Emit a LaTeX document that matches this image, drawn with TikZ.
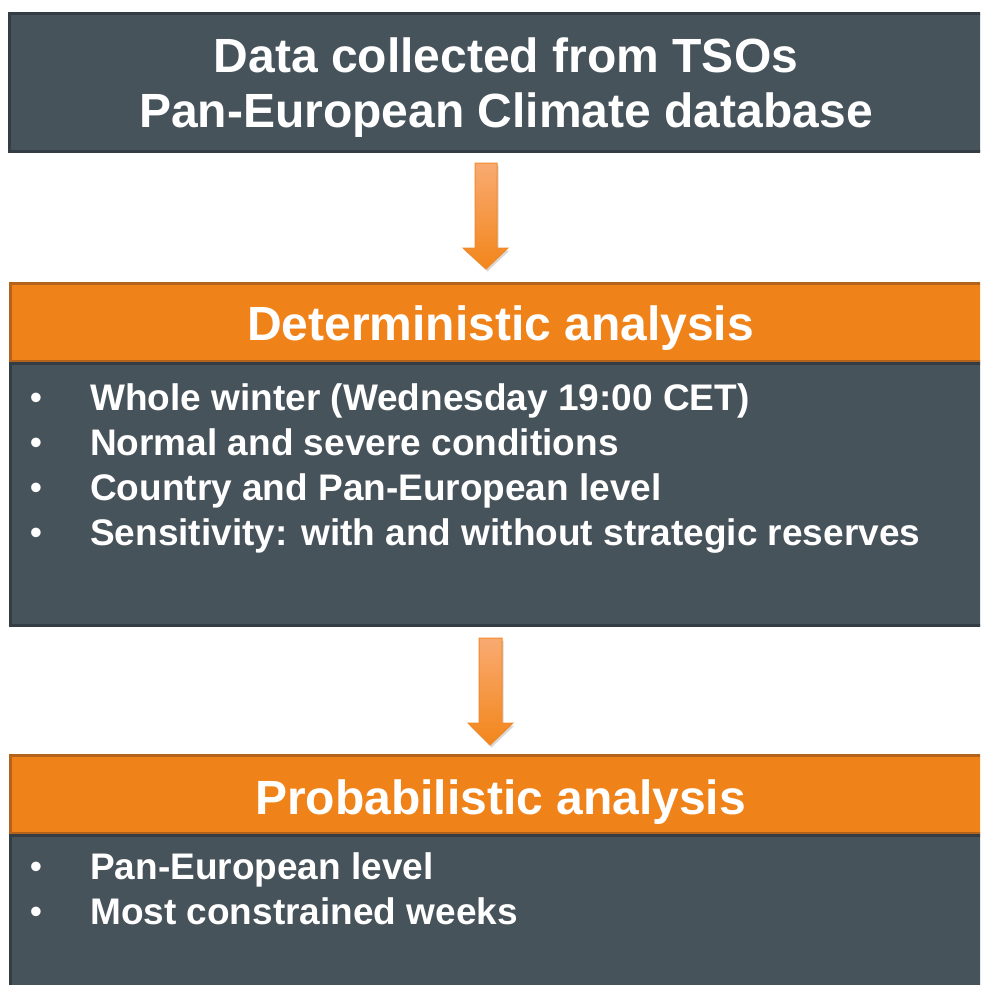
\documentclass[tikz,border=0pt]{standalone}
\usepackage{fontspec}
\setmainfont{Liberation Sans}
\usetikzlibrary{shadows}
\definecolor{slatefill}{HTML}{47535B}
\definecolor{slateedge}{HTML}{343D44}
\definecolor{orfill}{HTML}{F0821A}
\definecolor{oredge}{HTML}{B5631A}
\definecolor{arrtop}{HTML}{F9AA72}
\definecolor{arrbot}{HTML}{F2861A}
\definecolor{arredge}{HTML}{F08A2A}
\tikzset{
  slatebox/.style={rectangle, draw=slateedge, fill=slatefill, line width=3pt, inner sep=0pt, anchor=north west},
  orbox/.style={rectangle, draw=oredge, fill=orfill, line width=3pt, inner sep=0pt, anchor=north west},
  bigtext/.style={text=white, font=\fontsize{48}{55}\selectfont\bfseries, inner sep=0pt},
  itemtext/.style={text=white, font=\fontsize{37}{45}\selectfont\bfseries, inner sep=0pt, anchor=base west},
  bullettext/.style={text=white, font=\fontsize{35}{45}\selectfont, inner sep=0pt, anchor=base},
  blockarrow/.style={top color=arrtop, bottom color=arrbot, draw=arredge, line width=1pt, line join=miter,
     drop shadow={shadow xshift=1.5pt, shadow yshift=-2.5pt, opacity=0.25, fill=black!60}}
}
\begin{document}
\begin{tikzpicture}[x=1pt,y=-1pt]
\useasboundingbox (0,0) rectangle (980,985);
\clip (0,0) rectangle (980,985);
% source box
\node[slatebox, minimum width=1000pt, minimum height=138pt] (src) at (8,12) {};
\node[bigtext, align=center, anchor=base] (srctxt) at (506,127) {Data collected from TSOs\\Pan-European Climate database};
% deterministic
\node[orbox, minimum width=990pt, minimum height=78pt] (dethead) at (9,282) {};
\node[bigtext, anchor=base] (dettxt) at (500.5,340) {Deterministic analysis};
\node[slatebox, minimum width=990pt, minimum height=262pt] (detbody) at (9,362) {};
\node[bullettext] (b1) at (36,409) {•};
\node[itemtext] (i1) at (90,410) {Whole winter (Wednesday 19:00 CET)};
\node[bullettext] (b2) at (36,454) {•};
\node[itemtext] (i2) at (90,455) {Normal and severe conditions};
\node[bullettext] (b3) at (36,499) {•};
\node[itemtext] (i3) at (90,500) {Country and Pan-European level};
\node[bullettext] (b4) at (36,544) {•};
\node[itemtext] (i4) at (90,545) {Sensitivity: with and without strategic reserves};
% probabilistic
\node[orbox, minimum width=990pt, minimum height=78pt] (probhead) at (9,754) {};
\node[bigtext, anchor=base] (probtxt) at (500.5,814) {Probabilistic analysis};
\node[slatebox, minimum width=990pt, minimum height=170pt] (probbody) at (9,834) {};
\node[bullettext] (b5) at (36,878) {•};
\node[itemtext] (i5) at (90,879) {Pan-European level};
\node[bullettext] (b6) at (36,923) {•};
\node[itemtext] (i6) at (90,924) {Most constrained weeks};
% arrows
\path[blockarrow] (475,163) -- (497,163) -- (497,248) -- (508,248) -- (486,269) -- (463,248) -- (475,248) -- cycle;
\path[blockarrow] (479,638) -- (502,638) -- (502,723) -- (513,723) -- (490,745) -- (468,723) -- (479,723) -- cycle;
\end{tikzpicture}
\end{document}
